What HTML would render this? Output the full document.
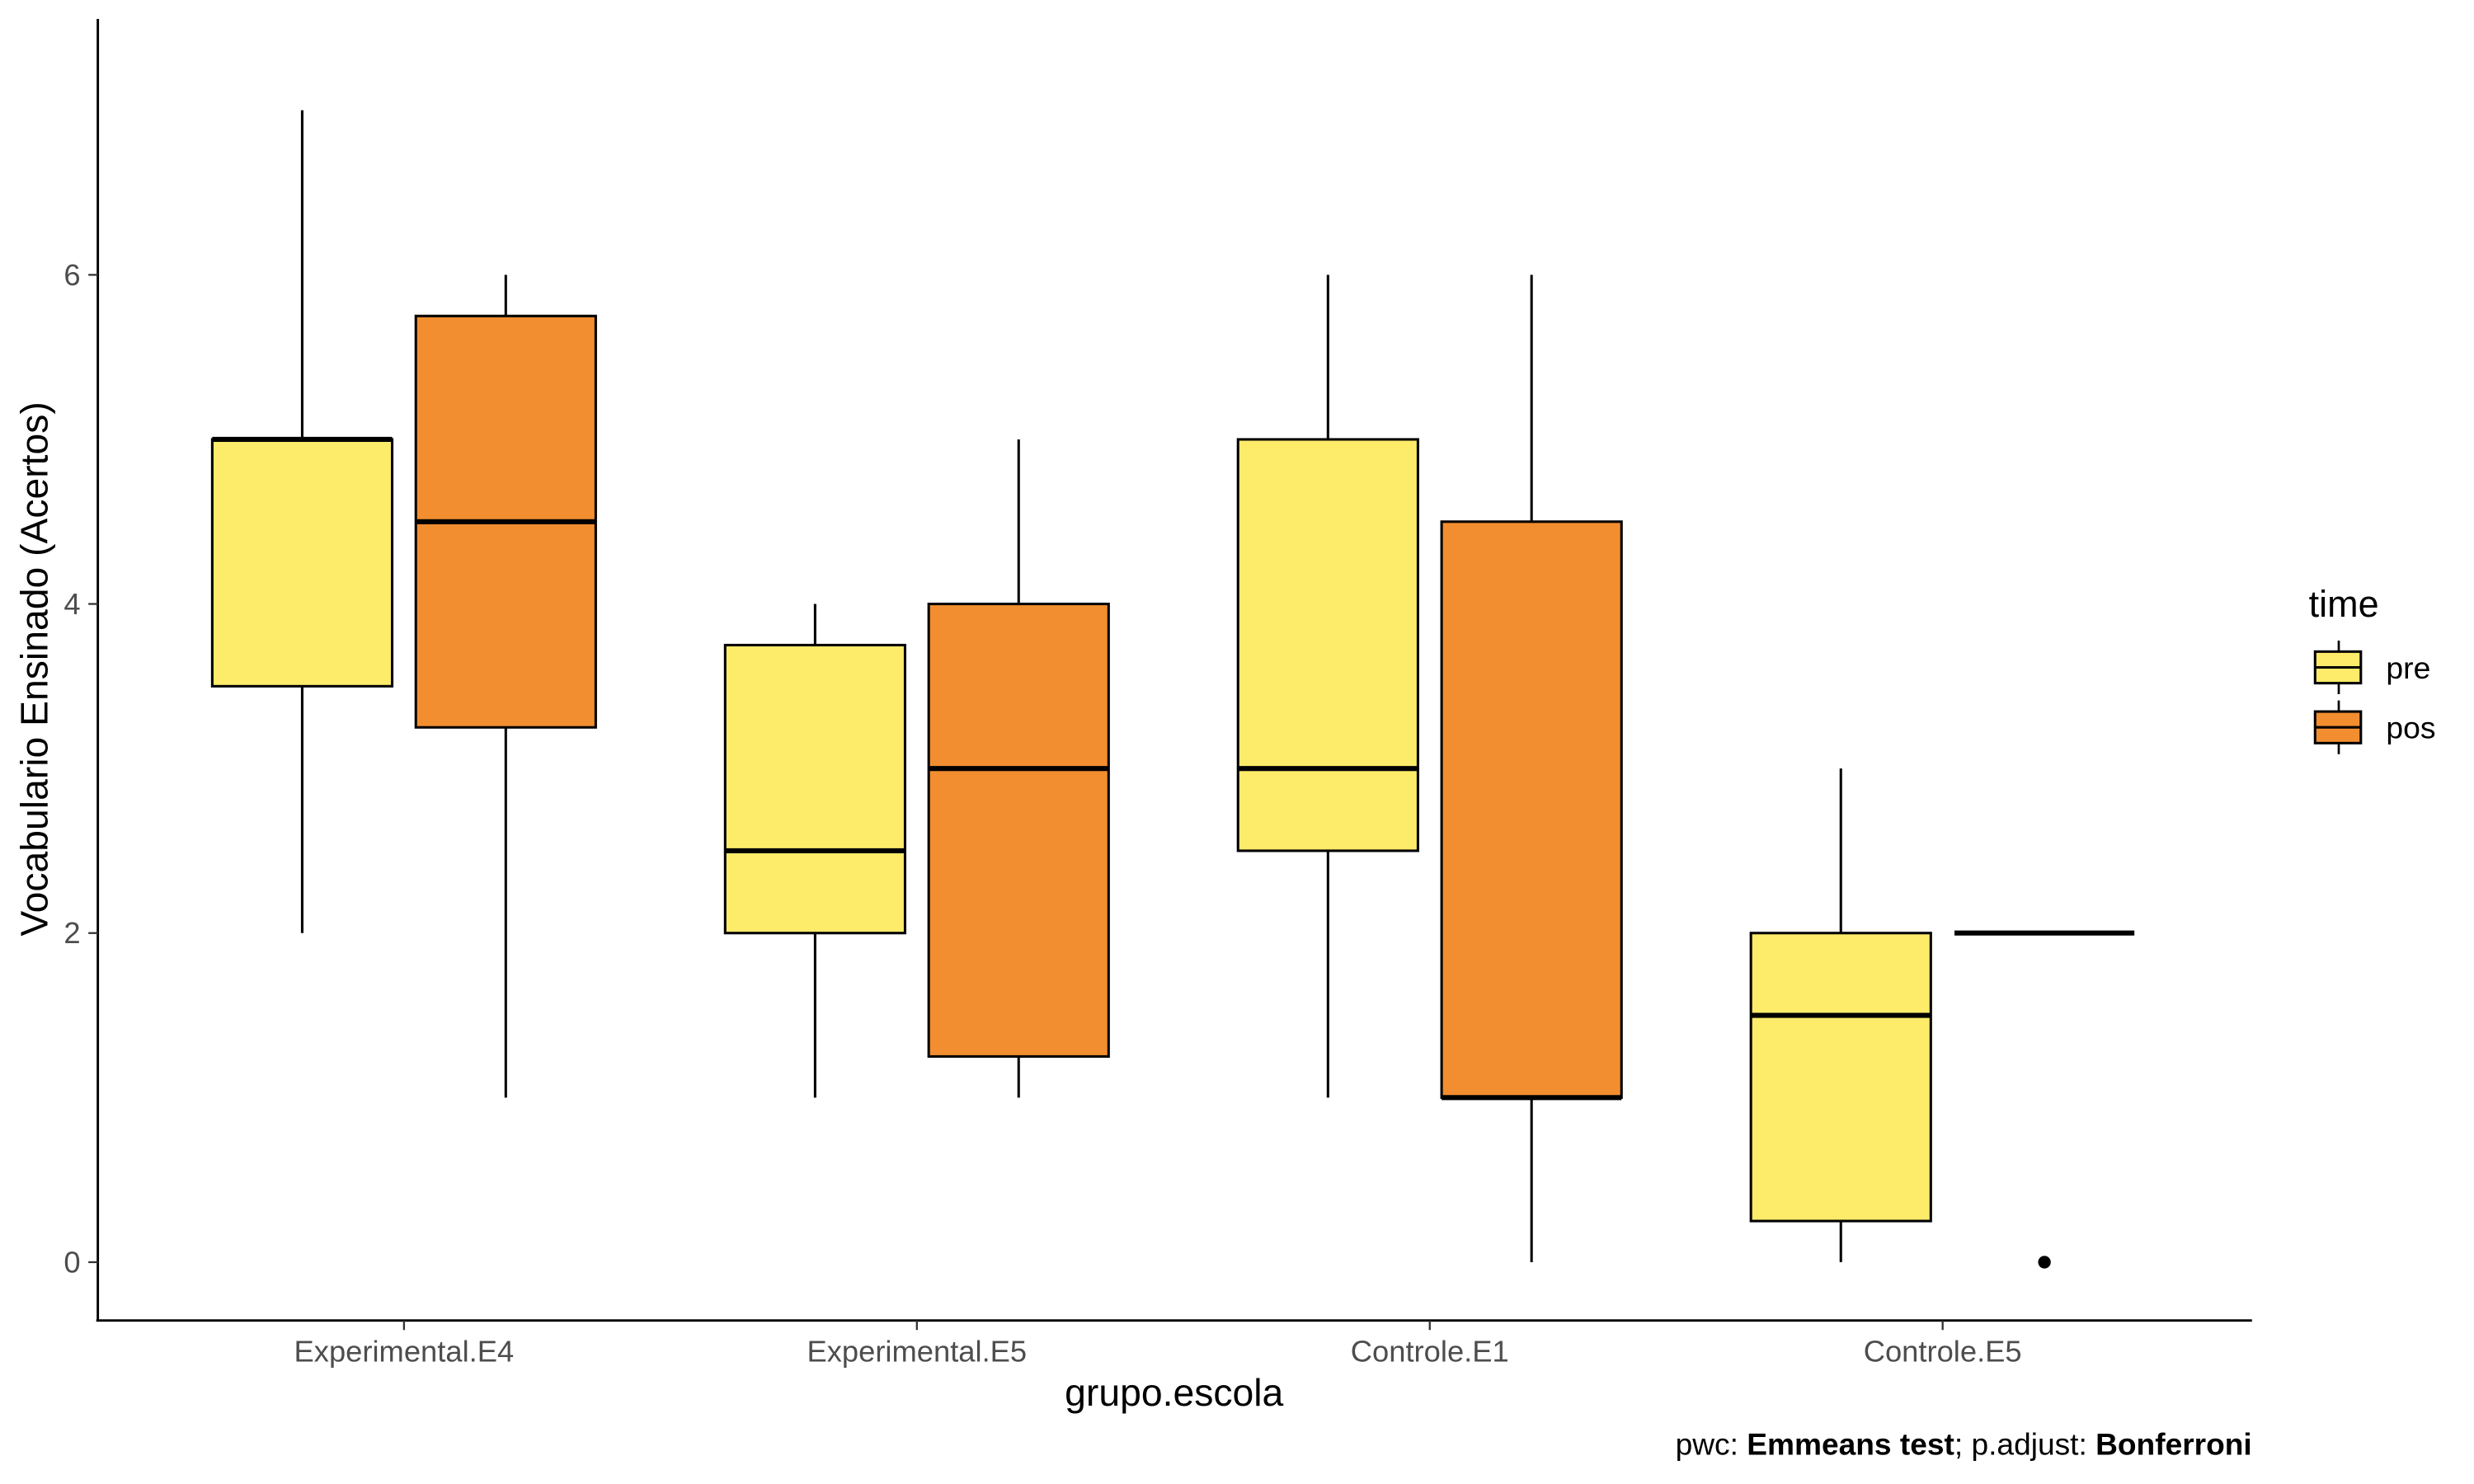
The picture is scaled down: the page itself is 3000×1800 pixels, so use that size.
<!DOCTYPE html>
<html><head><meta charset="utf-8"><style>
html,body{margin:0;padding:0;background:#fff;}
svg{display:block;font-family:"Liberation Sans",Arial,sans-serif;}
</style></head><body>
<svg id="chart" width="3000" height="1800" viewBox="0 0 1567.7 940.6" xmlns="http://www.w3.org/2000/svg">
<rect width="1567.7" height="940.6" fill="#fff"/>
<g id="plot"></g>
</svg>
<script>
const categories = ["Experimental.E4","Experimental.E5","Controle.E1","Controle.E5"];
const timeLevels = ["pre","pos"];
// [lowerWhisker, q1, median, q3, upperWhisker]
const preStats = [[2,3.5,5,5,7],[1,2,2.5,3.75,4],[1,2.5,3,5,6],[0,0.25,1.5,2,3]];
const posStats = [[1,3.25,4.5,5.75,6],[1,1.25,3,4,5],[0,1,1,4.5,6],[2,2,2,2,2]];
const posOutliers = [[],[],[],[0]];
const preOutliers = [[],[],[],[]];
const yTicks = [0,2,4,6];
const fills = {pre:"#FDEB6A", pos:"#F28E2F"};

const NS="http://www.w3.org/2000/svg";
const g=document.getElementById('plot');
const y=v=>800-v*104.3;
const xc=i=>256+i*325;
function mk(t,a,parent){const e=document.createElementNS(NS,t);for(const k in a)e.setAttribute(k,a[k]);(parent||g).appendChild(e);return e;}

let e;
e=mk('line',{x1:62,y1:12,x2:62,y2:837,stroke:'#000','stroke-width':1.5});


e=mk('line',{x1:61,y1:837,x2:1427,y2:837,stroke:'#000','stroke-width':1.5});



yTicks.forEach(v=>{
  e=mk('line',{x1:56,x2:62,y1:y(v),y2:y(v),stroke:'#333','stroke-width':1.2});
  
  
  e=mk('text',{x:51,y:y(v)+6.5,'text-anchor':'end','font-size':19,fill:'#4d4d4d'});
  e.textContent=v;
  
  
});
categories.forEach((c,i)=>{
  e=mk('line',{x1:xc(i),x2:xc(i),y1:837,y2:843,stroke:'#333','stroke-width':1.2});
  
  
  e=mk('text',{x:xc(i),y:863,'text-anchor':'middle','font-size':19,fill:'#4d4d4d'});
  e.textContent=c;
  
  
});

function drawBox(s,cx,fill,outs){
  const hw=57;
  e=mk('line',{x1:cx,x2:cx,y1:y(s[4]),y2:y(s[0]),stroke:'#000','stroke-width':1.6});
  
  
  e=mk('rect',{x:cx-hw,y:y(s[3]),width:hw*2,height:Math.max(0,y(s[1])-y(s[3])),fill:fill,stroke:'#000','stroke-width':1.6});
  
  
  e=mk('line',{x1:cx-hw,x2:cx+hw,y1:y(s[2]),y2:y(s[2]),stroke:'#000','stroke-width':3.2});
  
  
  outs.forEach(o=>{
    e=mk('circle',{cx:cx,cy:y(o),r:4,fill:'#000'});
    
    
  });
}
categories.forEach((c,i)=>{
  drawBox(preStats[i],xc(i)-64.5,fills.pre,preOutliers[i]);
  drawBox(posStats[i],xc(i)+64.5,fills.pos,posOutliers[i]);
});

e=mk('text',{x:744,y:891,'text-anchor':'middle','font-size':24.2,fill:'#000'});
e.textContent='grupo.escola';


e=mk('text',{x:0,y:0,'text-anchor':'middle','font-size':24.2,fill:'#000',transform:'translate(30,424) rotate(-90)'});
e.textContent='Vocabulario Ensinado (Acertos)';



e=mk('text',{x:1427,y:922,'text-anchor':'end','font-size':19.4,fill:'#000'});
e.innerHTML='pwc: <tspan font-weight="bold">Emmeans test</tspan>; p.adjust: <tspan font-weight="bold">Bonferroni</tspan>';



e=mk('text',{x:1463,y:391,'font-size':23.5,fill:'#000'});
e.textContent='time';


timeLevels.forEach((t,k)=>{
  const ky=423+k*38;
  e=mk('line',{x1:1482,x2:1482,y1:ky-17,y2:ky+17,stroke:'#000','stroke-width':1.4});
  
  
  e=mk('rect',{x:1467,y:ky-10,width:29,height:20,fill:fills[t],stroke:'#000','stroke-width':1.6});
  
  
  e=mk('line',{x1:1467,x2:1496,y1:ky,y2:ky,stroke:'#000','stroke-width':1.6});
  
  
  e=mk('text',{x:1512,y:ky+7,'font-size':19.5,fill:'#000'});
  e.textContent=t;
  
  
});
</script>
</body></html>
